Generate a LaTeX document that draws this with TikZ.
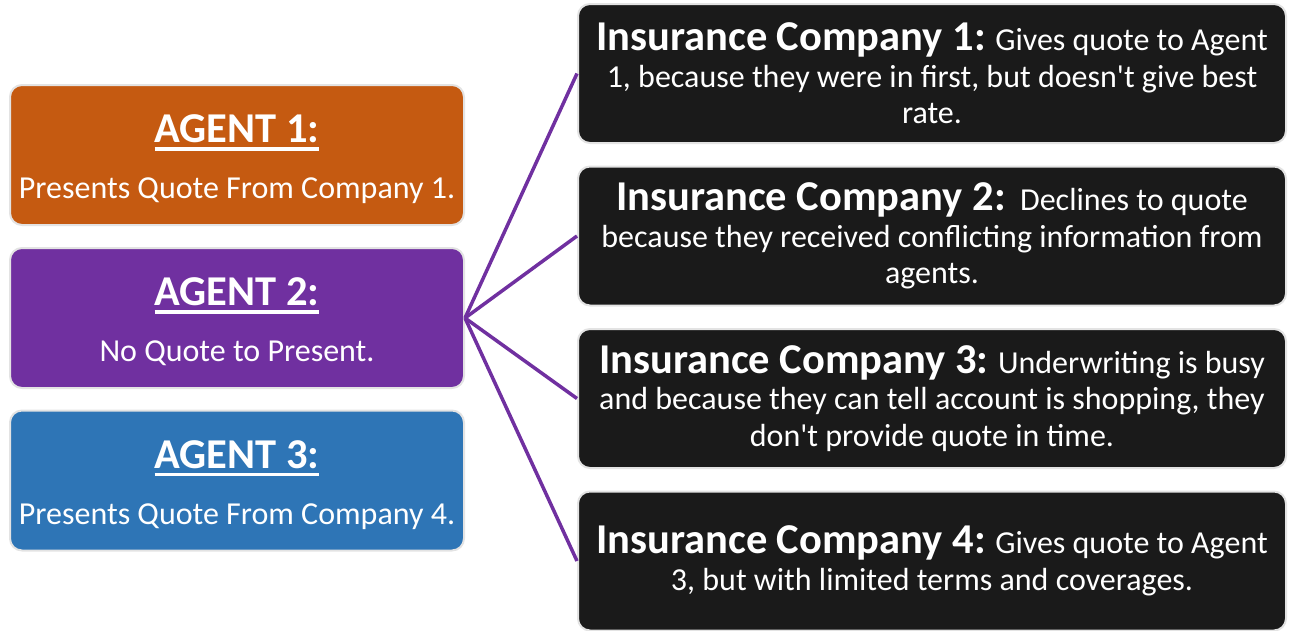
\documentclass[tikz,border=0pt]{standalone}
\usepackage{fontspec}
\setmainfont{Carlito}[Ligatures=TeXOff]

\definecolor{agentorange}{HTML}{C55A11}
\definecolor{agentpurple}{HTML}{7030A0}
\definecolor{agentblue}{HTML}{2E75B6}
\definecolor{companyblack}{HTML}{1A1A1A}
\definecolor{boxrim}{HTML}{E3E3E3}

\newsavebox{\titlebox}
\newcommand{\agenttitle}[1]{{\fontsize{42.5}{42}\selectfont\bfseries
  \sbox{\titlebox}{#1}\rule{0pt}{31pt}\rlap{\rule[-8pt]{\wd\titlebox}{3.5pt}}\usebox{\titlebox}}}
\newcommand{\companytitle}[1]{{\fontsize{42.5}{36}\selectfont\bfseries #1}}

\tikzset{
  agentbox/.style={draw=boxrim, line width=2pt, rounded corners=12pt,
    minimum width=454pt, minimum height=140pt, text=white, align=center,
    text depth=0pt, font=\fontsize{32}{56}\selectfont},
  companybox/.style={draw=boxrim, fill=companyblack, line width=2pt, rounded corners=12pt,
    minimum width=708pt, minimum height=139pt, text=white, align=center,
    font=\fontsize{32}{36.5}\selectfont},
  link/.style={draw=agentpurple, line width=3.5pt}
}

\begin{document}
\begin{tikzpicture}[x=1pt, y=-1pt]

  \useasboundingbox (0,0) rectangle (1289,630);

  % Agents
  \node[agentbox, fill=agentorange] (a1) at (237,155)
    {\agenttitle{AGENT 1:}\\Presents Quote From Company 1.};
  \node[agentbox, fill=agentpurple] (a2) at (237,318)
    {\agenttitle{AGENT 2:}\\No Quote to Present.};
  \node[agentbox, fill=agentblue] (a3) at (237,480.5)
    {\agenttitle{AGENT 3:}\\Presents Quote From Company 4.};

  % Insurance companies
  \node[companybox] (c1) at (932,73.5)
    {\companytitle{Insurance Company 1:} Gives quote to Agent\\
     1, because they were in first, but doesn't give best\\rate.};
  \node[companybox] (c2) at (932,236)
    {\companytitle{Insurance Company 2:}\ \ Declines to quote\\
     because they received conflicting information from\\agents.};
  \node[companybox] (c3) at (932,398.5)
    {\companytitle{Insurance Company 3:} Underwriting is busy\\
     and because they can tell account is shopping, they\\don't provide quote in time.};
  \node[companybox] (c4) at (932,561)
    {\companytitle{Insurance Company 4:} Gives quote to Agent\\
     3, but with limited terms and coverages.};

  % Links from agent 2
  \draw[link] (a2.east) -- (c1.west);
  \draw[link] (a2.east) -- (c2.west);
  \draw[link] (a2.east) -- (c3.west);
  \draw[link] (a2.east) -- (c4.west);

\end{tikzpicture}
\end{document}
